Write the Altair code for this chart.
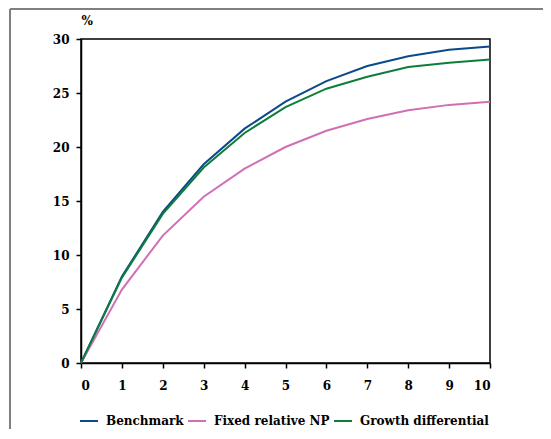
import altair as alt
import pandas as pd

years = list(range(11))
benchmark = [0, 8.0, 14.0, 18.4, 21.7, 24.2, 26.1, 27.5, 28.4, 29.0, 29.3]
fixed_np = [0, 6.8, 11.8, 15.4, 18.0, 20.0, 21.5, 22.6, 23.4, 23.9, 24.2]
growth_diff = [0, 7.9, 13.8, 18.1, 21.3, 23.7, 25.4, 26.5, 27.4, 27.8, 28.1]

series_names = ["Benchmark", "Fixed relative NP", "Growth differential"]
series_colors = ["#0b4a8a", "#d070b4", "#0e7d3c"]
y_ticks = [0, 5, 10, 15, 20, 25, 30]

rows = []
for name, vals in zip(series_names, [benchmark, fixed_np, growth_diff]):
    for yr, v in zip(years, vals):
        rows.append({"year": yr, "value": v, "series": name})
df = pd.DataFrame(rows)

FONT = "DejaVu Serif"
W, H = 409, 324

lines = alt.Chart(df).mark_line(strokeWidth=2).encode(
    x=alt.X("year:Q", scale=alt.Scale(domain=[0, 10], nice=False),
            axis=alt.Axis(values=years, title=None, tickSize=5, labelPadding=12,
                          grid=False, format="d")),
    y=alt.Y("value:Q", scale=alt.Scale(domain=[0, 30], nice=False),
            axis=alt.Axis(values=y_ticks, title="%", titleAngle=0, titleX=0, titleY=-19,
                          titleAlign="left", titleBaseline="middle",
                          tickSize=5, labelPadding=7, grid=False)),
    color=alt.Color("series:N",
                    scale=alt.Scale(domain=series_names, range=series_colors),
                    legend=alt.Legend(title=None, orient="none", legendX=-2, legendY=372,
                                      direction="horizontal", symbolType="stroke",
                                      symbolSize=324, symbolStrokeWidth=2,
                                      labelOffset=7, columnPadding=0)),
    order=alt.Order("year:Q"),
)

# outer frame, only its top and left edges fall inside the window
frame_df = pd.DataFrame({"x1": [-71, -71], "x2": [480, -71], "y1": [-30, -30], "y2": [-30, 420]})
frame = alt.Chart(frame_df).mark_rule(color="#808080", strokeWidth=2, clip=False).encode(
    x=alt.X("x1:Q", scale=None), x2="x2:Q",
    y=alt.Y("y1:Q", scale=None), y2="y2:Q",
)

chart = alt.layer(lines, frame).properties(
    width=W, height=H,
    autosize=alt.AutoSizeParams(type="none"),
    padding={"left": 73, "top": 31, "right": 53, "bottom": 66},
).configure_view(
    stroke="black", strokeWidth=1.5
).configure_axis(
    domainColor="black", domainWidth=1.5, tickColor="black", tickWidth=1.5,
    labelFont=FONT, labelFontSize=12, labelFontWeight="bold", labelColor="black",
    titleFont=FONT, titleFontSize=12, titleFontWeight="bold", titleColor="black",
).configure_legend(
    labelFont=FONT, labelFontSize=12, labelFontWeight="bold", labelColor="black",
)

chart.save("out.html", embed_options={"renderer": "svg", "actions": False})
